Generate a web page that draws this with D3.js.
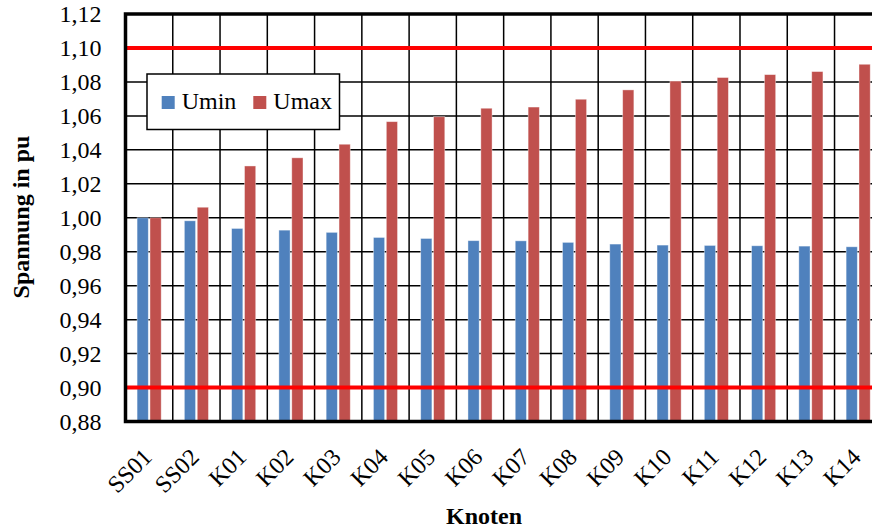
<!DOCTYPE html>
<html>
<head>
<meta charset="utf-8">
<script src="https://cdn.jsdelivr.net/npm/d3@7"></script>
<style>
  html, body { margin: 0; padding: 0; background: #fff; }
  svg { display: block; font-family: "Liberation Serif", "Times New Roman", serif; }
</style>
</head>
<body>
<svg id="chart" width="872" height="528"></svg>
<script>
const categories = ["SS01","SS02","K01","K02","K03","K04","K05","K06","K07","K08","K09","K10","K11","K12","K13","K14"];
const seriesNames = ["Umin","Umax"];
const umin = [1.0000,0.9982,0.9937,0.9927,0.9914,0.9884,0.9878,0.9865,0.9864,0.9855,0.9845,0.9839,0.9837,0.9835,0.9833,0.9829];
const umax = [1.0000,1.0062,1.0305,1.0353,1.0433,1.0566,1.0595,1.0645,1.0652,1.0698,1.0753,1.0805,1.0826,1.0843,1.0861,1.0904];
const yTicks = [0.88,0.90,0.92,0.94,0.96,0.98,1.00,1.02,1.04,1.06,1.08,1.10,1.12];
const limits = [0.90, 1.10];
const colors = {Umin: "#4F81BD", Umax: "#C0504D"};

const svg = d3.select("#chart");
const pL = 125.5, pR = 881.8, pT = 14, pB = 421.5;

const x = d3.scaleBand().domain(categories).range([pL, pR]).paddingInner(0).paddingOuter(0);
const bw = x.bandwidth();
const x1 = d3.scaleBand().domain(seriesNames).range([bw * 0.245, bw * 0.755]).paddingInner(0.13);
const y = d3.scaleLinear().domain([0.88, 1.12]).range([pB, pT]);

const locale = d3.formatLocale({decimal: ",", thousands: ".", grouping: [3], currency: ["", "€"]});
const fmt = locale.format(".2f");

// gridlines
const g = svg.append("g");
g.selectAll("line.h").data(yTicks).join("line")
  .attr("x1", pL).attr("x2", pR)
  .attr("y1", d => y(d)).attr("y2", d => y(d))
  .attr("stroke", "#000").attr("stroke-width", 1.5);
g.selectAll("line.v").data(categories.slice(1)).join("line")
  .attr("x1", d => x(d)).attr("x2", d => x(d))
  .attr("y1", pT).attr("y2", pB)
  .attr("stroke", "#000").attr("stroke-width", 1.5);

// bars
const rows = categories.map((c, i) => ({c, Umin: umin[i], Umax: umax[i]}));
const bars = svg.append("g");
rows.forEach(r => {
  seriesNames.forEach(s => {
    bars.append("rect")
      .attr("x", x(r.c) + x1(s))
      .attr("width", x1.bandwidth())
      .attr("y", y(r[s]))
      .attr("height", y(0.88) - y(r[s]))
      .attr("fill", colors[s])
      .attr("stroke", "#ffffff").attr("stroke-opacity", 0.5).attr("stroke-width", 0.8);
  });
});

// limit lines
svg.append("g").selectAll("line").data(limits).join("line")
  .attr("x1", pL).attr("x2", pR)
  .attr("y1", d => y(d)).attr("y2", d => y(d))
  .attr("stroke", "#FF0000").attr("stroke-width", 4);

// plot border
svg.append("rect")
  .attr("x", pL).attr("y", pT)
  .attr("width", pR - pL).attr("height", pB - pT)
  .attr("fill", "none").attr("stroke", "#000").attr("stroke-width", 3.5);

// y axis labels
const yAxis = d3.axisLeft(y).tickValues(yTicks).tickFormat(fmt).tickSize(0).tickPadding(24);
const ya = svg.append("g").attr("transform", `translate(${pL},0)`).call(yAxis);
ya.select(".domain").remove();
ya.selectAll("text").attr("font-size", 24).attr("font-family", "Liberation Serif").attr("fill", "#000").attr("dy", "0.33em");

// x axis labels
const xAxis = d3.axisBottom(x).tickSize(0).tickPadding(0);
const xa = svg.append("g").attr("transform", `translate(0,${pB})`).call(xAxis);
xa.select(".domain").remove();
xa.selectAll("text")
  .attr("font-size", 24).attr("font-family", "Liberation Serif").attr("fill", "#000")
  .attr("text-anchor", "end")
  .attr("dy", 0).attr("y", 0)
  .attr("transform", "translate(4,37) rotate(-45)");

// axis titles
svg.append("text")
  .attr("x", 484).attr("y", 524)
  .attr("text-anchor", "middle").attr("font-weight", "bold").attr("font-size", 24)
  .text("Knoten");
svg.append("text")
  .attr("transform", "translate(29,217) rotate(-90)")
  .attr("text-anchor", "middle").attr("font-weight", "bold").attr("font-size", 24)
  .text("Spannung in pu");

// legend
const lg = svg.append("g");
lg.append("rect").attr("x", 147).attr("y", 74).attr("width", 192.5).attr("height", 55.5)
  .attr("fill", "#fff").attr("stroke", "#000").attr("stroke-width", 1.5);
const legendX = [161.7, 253.3];
seriesNames.forEach((s, i) => {
  lg.append("rect").attr("x", legendX[i]).attr("y", 96).attr("width", 13).attr("height", 13).attr("fill", colors[s]);
  lg.append("text").attr("x", legendX[i] + 20).attr("y", 109.3).attr("font-size", 24).text(s);
});
</script>
</body>
</html>
